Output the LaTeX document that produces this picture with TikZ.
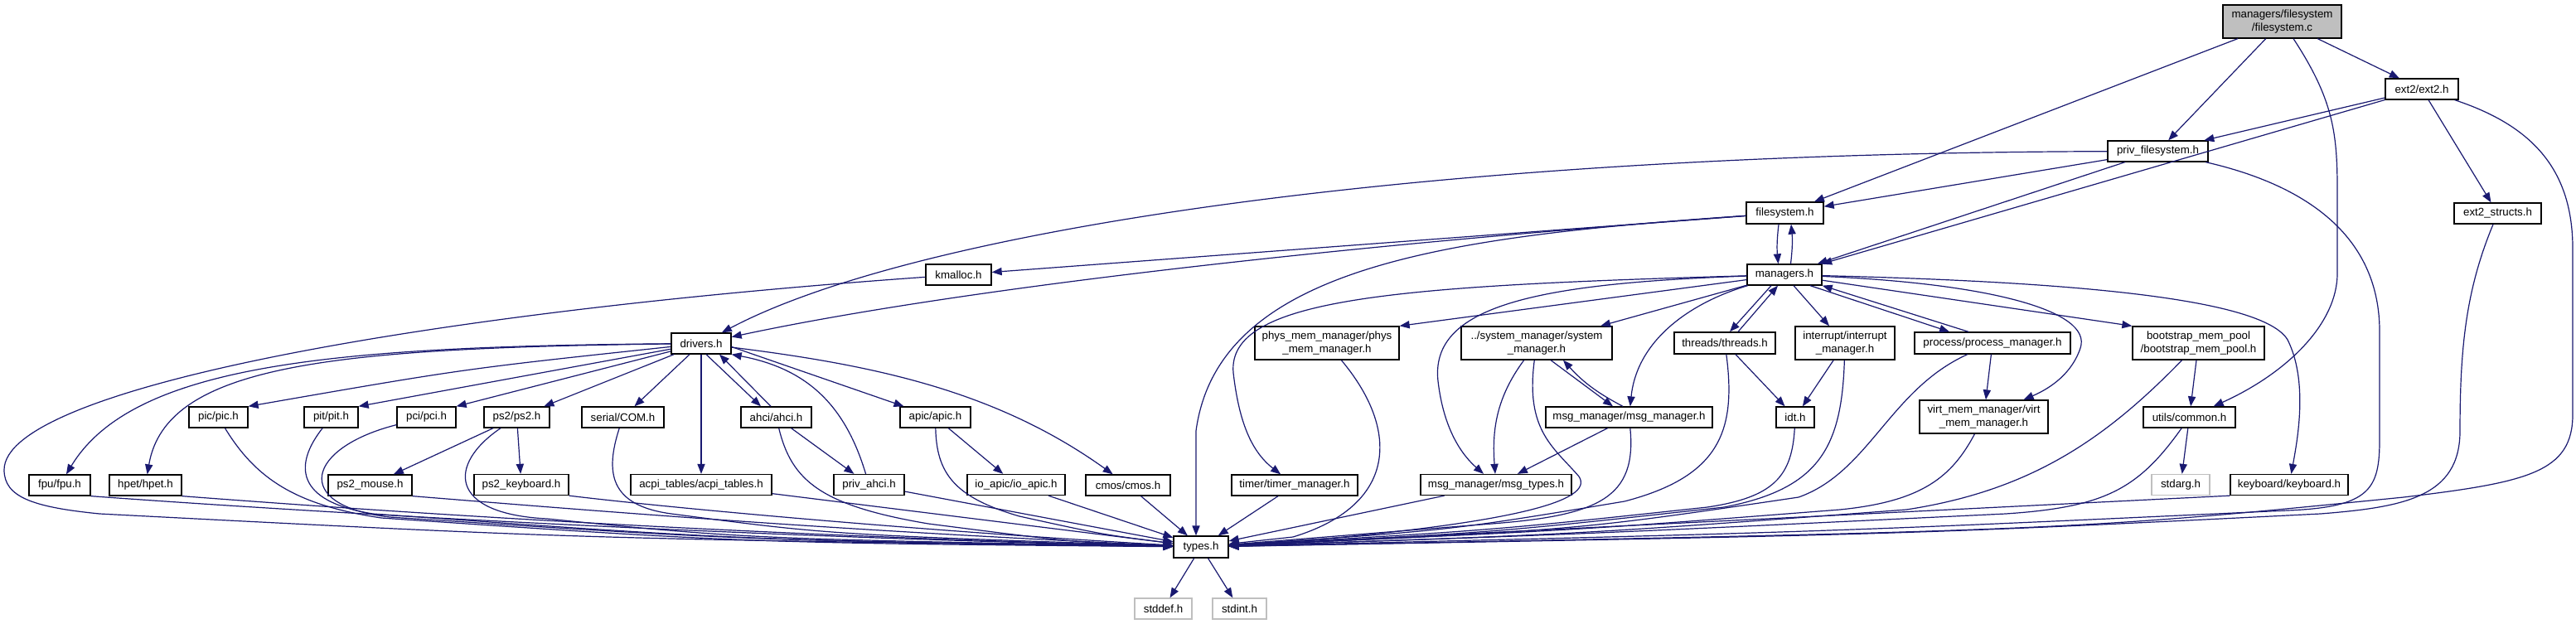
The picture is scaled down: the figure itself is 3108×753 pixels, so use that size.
\documentclass[tikz,border=0pt]{standalone}
\usepackage{fontspec}
\setmainfont{Liberation Sans}
\usetikzlibrary{arrows.meta}
\definecolor{edgec}{HTML}{191970}
\definecolor{grayfill}{HTML}{BFBFBF}
\begin{document}
\begin{tikzpicture}[x=0.5pt,y=-0.5pt,
 nd/.style={draw=black, line width=0.65pt, fill=white, inner sep=0pt, minimum height=12.5pt, align=center, font={\fontsize{6.65pt}{7.6pt}\selectfont}},
 two/.style={minimum height=20pt},
 sys/.style={draw=grayfill},
 e/.style={draw=edgec, line width=0.6pt, -{Triangle[length=6pt,width=4.6pt]}}]
\fill[white] (0,0) rectangle (3108,753);
\useasboundingbox (0,0) rectangle (3108,753);
% nodes
\node[nd,two,fill=grayfill,minimum width=71.5pt] (root) at (2753.5,26) {managers/filesystem\\/filesystem.c};
\node[nd,minimum width=44pt] (ext2) at (2922,107.5) {ext2/ext2.h};
\node[nd,minimum width=60.5pt] (privfs) at (2603.5,182.5) {priv\_filesystem.h};
\node[nd,minimum width=52.5pt] (ext2s) at (3013.5,257.5) {ext2\_structs.h};
\node[nd,minimum width=46.5pt,minimum height=13pt] (fsh) at (2153.5,257) {filesystem.h};
\node[nd,minimum width=45pt] (mgr) at (2153,331.5) {managers.h};
\node[nd,minimum width=39.5pt] (kmalloc) at (1156.5,331.5) {kmalloc.h};
\node[nd,minimum width=36pt] (drivers) at (846,414.5) {drivers.h};
\node[nd,minimum width=35.5pt] (pic) at (263.5,503.5) {pic/pic.h};
\node[nd,minimum width=32.5pt] (pit) at (399.5,503.5) {pit/pit.h};
\node[nd,minimum width=35.5pt] (pci) at (514.5,503.5) {pci/pci.h};
\node[nd,minimum width=39.5pt] (ps2) at (623.5,503.5) {ps2/ps2.h};
\node[nd,minimum width=49.5pt] (serial) at (751.5,503.5) {serial/COM.h};
\node[nd,minimum width=42.5pt] (ahci) at (936.5,503.5) {ahci/ahci.h};
\node[nd,minimum width=42.5pt] (apic) at (1128.5,503.5) {apic/apic.h};
\node[nd,two,minimum width=87pt] (phys) at (1601,414) {phys\_mem\_manager/phys\\\_mem\_manager.h};
\node[nd,two,minimum width=91pt] (sysmgr) at (1854,414) {../system\_manager/system\\\_manager.h};
\node[nd,minimum width=61pt,minimum height=13pt] (threads) at (2081,414) {threads/threads.h};
\node[nd,two,minimum width=60pt] (intr) at (2226,414) {interrupt/interrupt\\\_manager.h};
\node[nd,minimum width=94pt,minimum height=13pt] (process) at (2404,414) {process/process\_manager.h};
\node[nd,two,minimum width=79.5pt] (bootstrap) at (2652.5,414) {bootstrap\_mem\_pool\\/bootstrap\_mem\_pool.h};
\node[nd,minimum width=100.5pt] (msgmgr) at (1965.5,503.5) {msg\_manager/msg\_manager.h};
\node[nd,minimum width=23pt] (idt) at (2166,503.5) {idt.h};
\node[nd,two,minimum width=77.5pt] (virt) at (2393.5,503) {virt\_mem\_manager/virt\\\_mem\_manager.h};
\node[nd,minimum width=55.5pt] (common) at (2641.5,503.5) {utils/common.h};
\node[nd,minimum width=37pt] (fpu) at (72,585.5) {fpu/fpu.h};
\node[nd,minimum width=43.5pt] (hpet) at (175.5,585.5) {hpet/hpet.h};
\node[nd,minimum width=50.5pt] (ps2mouse) at (446.5,585.5) {ps2\_mouse.h};
\node[nd,minimum width=57pt] (ps2kbd) at (629,585) {ps2\_keyboard.h};
\node[nd,minimum width=85pt] (acpi) at (846,585) {acpi\_tables/acpi\_tables.h};
\node[nd,minimum width=42.5pt] (privahci) at (1048.5,585) {priv\_ahci.h};
\node[nd,minimum width=59pt] (ioapic) at (1226,585) {io\_apic/io\_apic.h};
\node[nd,minimum width=51pt] (cmos) at (1361,585.5) {cmos/cmos.h};
\node[nd,minimum width=76pt] (timer) at (1562,585.5) {timer/timer\_manager.h};
\node[nd,minimum width=91pt] (msgtypes) at (1805,585) {msg\_manager/msg\_types.h};
\node[nd,sys,minimum width=35pt] (stdarg) at (2631,585) {stdarg.h};
\node[nd,minimum width=71pt] (keyboard) at (2762,585) {keyboard/keyboard.h};
\node[nd,minimum width=33pt,minimum height=13pt] (types) at (1449,660) {types.h};
\node[nd,sys,minimum width=34.5pt] (stddef) at (1403.5,734.5) {stddef.h};
\node[nd,sys,minimum width=32.5pt] (stdint) at (1495.5,734.5) {stdint.h};
% root
\draw[e] (root) -- (fsh);
\draw[e] (root) -- (privfs);
\draw[e] (root) .. controls (2815,120) and (2820,160) .. (2820,230) -- (2820,330) .. controls (2820,390) and (2760,450) .. (common);
\draw[e] (root) -- (ext2);
% ext2
\draw[e] (ext2) -- (privfs);
\draw[e] (ext2) -- (mgr);
\draw[e] (ext2) -- (ext2s);
\draw[e] (ext2) .. controls (3050,150) and (3104,200) .. (3104,300) -- (3104,500) .. controls (3104,570) and (3050,582) .. (2900,600) .. controls (2500,640) .. (types);
% priv_filesystem
\draw[e] (privfs) -- (fsh);
\draw[e] (privfs) -- (mgr);
\draw[e] (privfs) .. controls (1700,185) and (1100,280) .. (drivers);
\draw[e] (privfs) .. controls (2790,225) and (2871,290) .. (2871,400) -- (2871,530) .. controls (2871,590) and (2860,612) .. (2760,616) .. controls (2200,642) .. (types);
% filesystem.h
\draw[e] ([xshift=-3.75pt]fsh.south) to[bend right=6] ([xshift=-3.75pt]mgr.north);
\draw[e] ([xshift=3.75pt]mgr.north) to[bend right=6] ([xshift=3.75pt]fsh.south);
\draw[e] (fsh) -- (kmalloc);
\draw[e] (fsh) .. controls (1500,305) and (1100,360) .. (drivers);
\draw[e] (fsh) .. controls (1750,285) and (1470,320) .. (1443,520) -- ([xshift=-3pt]types.north);
% managers.h
\draw[e] (mgr) -- (phys.north east);
\draw[e] (mgr) -- (sysmgr.15);
\draw[e] (mgr) .. controls (2040,365) and (1975,410) .. (msgmgr);
\draw[e] (mgr) .. controls (1850,342) and (1725,370) .. (1735,460) .. controls (1742,520) and (1765,550) .. (msgtypes);
\draw[e] (mgr) .. controls (1680,345) and (1480,360) .. (1488,450) .. controls (1495,510) and (1510,545) .. (timer);
\draw[e] ([xshift=-8pt]mgr.south) -- ([xshift=3pt]threads.north);
\draw[e] ([xshift=8pt]threads.north) -- ([xshift=-4pt]mgr.south);
\draw[e] ([xshift=5.5pt]mgr.south) -- ([xshift=-9.5pt]intr.north);
\draw[e] ([xshift=15.5pt]mgr.south) -- ([xshift=-26pt]process.north);
\draw[e] ([xshift=-14.5pt]process.north) -- (mgr.south east);
\draw[e] (mgr) -- (bootstrap.north west);
\draw[e] (mgr) .. controls (2400,342) and (2525,375) .. (2510,420) .. controls (2500,450) and (2475,468) .. (virt);
\draw[e] (mgr) .. controls (2500,340) and (2730,360) .. (2760,410) .. controls (2785,460) and (2772,530) .. (keyboard);
% threads, interrupt, idt
\draw[e] (threads) -- (idt);
\draw[e] (intr) -- (idt);
\draw[e] (threads) .. controls (2095,520) and (2075,575) .. (1960,605) .. controls (1750,640) .. (types);
\draw[e] (intr) .. controls (2222,540) and (2195,590) .. (2080,612) .. controls (1800,643) .. (types);
\draw[e] (idt) .. controls (2162,575) and (2140,600) .. (2060,612) .. controls (1800,640) .. (types);
% system manager, msg manager
\draw[e] (sysmgr) .. controls (1805,480) and (1800,520) .. (msgtypes);
\draw[e] ([xshift=8.5pt]sysmgr.south) -- ([xshift=-9.75pt]msgmgr.north);
\draw[e] ([xshift=-3.75pt]msgmgr.north) to[bend left=10] ([xshift=16pt]sysmgr.south);
\draw[e] (sysmgr) .. controls (1840,520) and (1875,540) .. (1905,575) .. controls (1925,605) and (1820,630) .. (1600,650) -- (types);
\draw[e] (msgmgr) -- (msgtypes);
\draw[e] (msgmgr) .. controls (1975,600) and (1930,622) .. (1800,632) -- (types);
\draw[e] (msgtypes) -- (types);
\draw[e] (phys) .. controls (1690,520) and (1685,610) .. (1560,648) -- (types);
\draw[e] (timer) -- (types);
% process, virt, bootstrap, common, keyboard, ext2_structs
\draw[e] (process) -- (virt);
\draw[e] (process) .. controls (2280,470) and (2255,570) .. (2170,600) .. controls (1900,640) .. (types);
\draw[e] (virt) .. controls (2355,575) and (2320,605) .. (2220,615) .. controls (1900,640) .. (types);
\draw[e] (bootstrap) -- (common);
\draw[e] (bootstrap) .. controls (2540,530) and (2450,592) .. (2300,615) .. controls (1900,645) .. (types);
\draw[e] (common) -- (stdarg);
\draw[e] (common) .. controls (2580,590) and (2540,612) .. (2420,620) .. controls (1900,645) .. (types);
\draw[e] (keyboard.south west) -- (types);
\draw[e] (ext2s) .. controls (2975,350) and (2968,420) .. (2968,520) .. controls (2968,600) and (2900,612) .. (2800,620) .. controls (2300,645) .. (types);
% kmalloc
\draw[e] (kmalloc) .. controls (500,378) and (5,470) .. (5,567) .. controls (5,600) and (40,612) .. (120,620) .. controls (700,650) .. (types);
% drivers.h
\draw[e] (drivers) .. controls (400,418) and (160,440) .. (fpu);
\draw[e] (drivers) .. controls (400,420) and (200,440) .. (hpet);
\draw[e] (drivers) .. controls (560,445) .. (pic.north east);
\draw[e] (drivers) -- (pit.north east);
\draw[e] (drivers) -- (pci.north east);
\draw[e] (drivers) -- (ps2);
\draw[e] (drivers) -- (serial);
\draw[e] (drivers) -- (acpi);
\draw[e] ([xshift=3pt]drivers.south) -- ([xshift=-9.25pt]ahci.north);
\draw[e] ([xshift=-3.25pt]ahci.north) -- ([xshift=11pt]drivers.south);
\draw[e] ([yshift=-2pt]drivers.east) -- (apic);
\draw[e] (drivers) .. controls (1050,440) and (1200,470) .. (cmos);
\draw[e] (privahci) .. controls (1020,490) and (975,445) .. (drivers.south east);
\draw[e] (ahci) -- (privahci);
\draw[e] (apic) -- (ioapic);
\draw[e] (ps2) -- (ps2mouse);
\draw[e] (ps2) -- (ps2kbd);
% into types.h from the left
\draw[e] (fpu.south east) .. controls (400,620) and (900,648) .. (types);
\draw[e] (hpet.south east) .. controls (500,620) and (900,646) .. (types);
\draw[e] (pic) .. controls (310,580) and (360,610) .. (460,625) .. controls (900,655) .. (types);
\draw[e] (pit) .. controls (355,560) and (355,605) .. (450,620) .. controls (900,652) .. (types);
\draw[e] (pci) .. controls (370,540) and (350,610) .. (470,624) .. controls (900,652) .. (types);
\draw[e] (ps2) .. controls (540,560) and (540,620) .. (660,626) .. controls (900,650) .. (types);
\draw[e] (ps2mouse.south east) .. controls (700,615) and (1000,640) .. (types);
\draw[e] (ps2kbd.south east) .. controls (800,612) and (1100,640) .. (types);
\draw[e] (serial) .. controls (730,570) and (735,610) .. (810,620) .. controls (1000,645) .. (types);
\draw[e] (acpi) -- (types);
\draw[e] (ahci) .. controls (955,580) and (990,610) .. (1120,632) .. controls (1300,655) .. (types);
\draw[e] (privahci) -- (types);
\draw[e] (apic) .. controls (1130,570) and (1150,600) .. (1230,623) .. controls (1330,645) .. (types);
\draw[e] (ioapic) -- (types);
\draw[e] (cmos) -- (types);
% types.h
\draw[e] (types) -- (stddef);
\draw[e] (types) -- (stdint);
\end{tikzpicture}
\end{document}
